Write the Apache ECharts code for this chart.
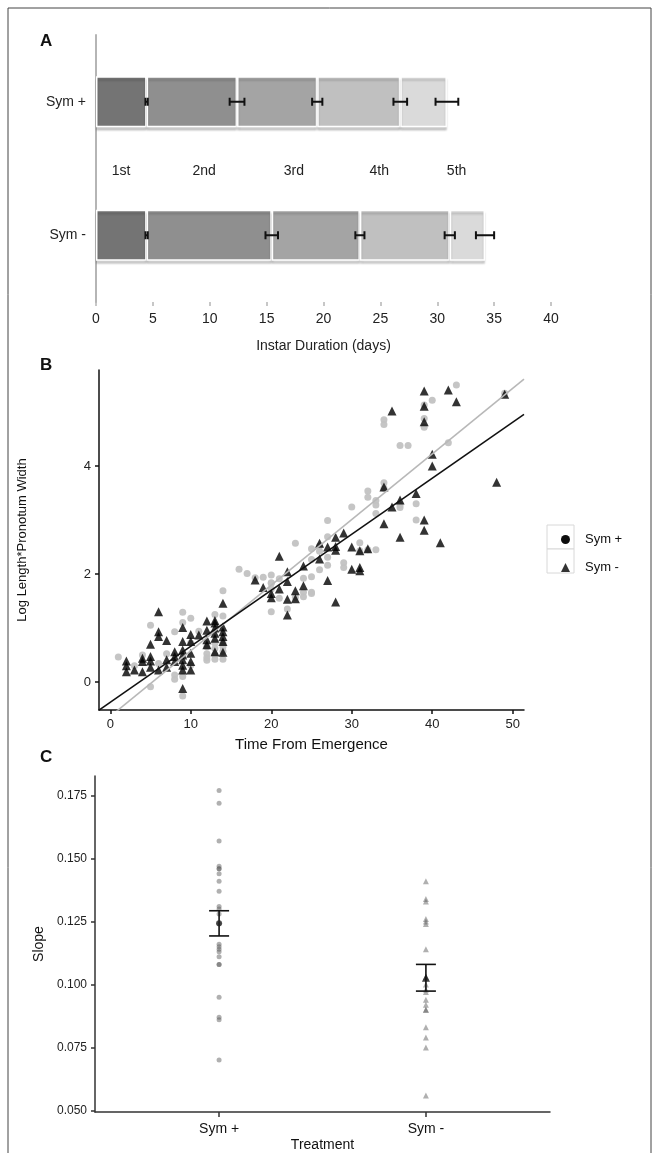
<!DOCTYPE html>
<html><head><meta charset="utf-8">
<script src="https://cdn.jsdelivr.net/npm/echarts@6/dist/echarts.min.js"></script>
<style>html,body{margin:0;padding:0;background:#fff}#c{width:659px;height:1153px}</style>
</head><body><div id="c"></div>
<script>
// ---------- Panel A data ----------
const groups = ['Sym +', 'Sym -'];
const instars = ['1st', '2nd', '3rd', '4th', '5th'];
const durSymPlus = [4.45, 7.95, 7.05, 7.3, 4.1];
const durSymMinus = [4.45, 11.0, 7.75, 7.9, 3.1];
const seSymPlus = [0.1, 0.65, 0.45, 0.6, 1.0];
const seSymMinus = [0.1, 0.55, 0.4, 0.45, 0.8];
const instarLabelX = [2.2, 9.5, 17.4, 24.9, 31.7];
const durationTicks = [0, 5, 10, 15, 20, 25, 30, 35, 40];

// ---------- Panel B data ----------
const growthSymPlus = [
[1,0.46],[3,0.3],[4,0.5],[5,1.05],[5,-0.09],[6,0.34],[7,0.52],[8,0.93],[8,0.05],[8,0.13],[9,1.29],[9,0.1],[9,-0.26],[9,1.1],
[10,1.18],[10,0.31],[10,0.72],[11,0.94],[12,0.40],[12,0.52],[12,0.65],[12,0.45],[13,1.25],[13,0.72],[13,0.50],[13,0.62],[13,0.42],
[14,1.69],[14,1.22],[14,0.72],[14,0.57],[14,0.42],[14,0.65],
[16,2.09],[17,2.01],[18,1.93],[19,1.94],[20,1.98],[20,1.84],[20,1.72],[20,1.30],[20,1.83],[21,1.91],[21,1.55],[22,1.35],
[23,2.57],[23,1.57],[24,1.66],[24,1.92],[24,1.58],[25,2.27],[25,1.95],[25,1.66],[25,2.47],[25,1.64],[26,2.42],[26,2.08],[26,2.52],
[27,2.99],[27,2.69],[27,2.31],[27,2.16],[29,2.21],[29,2.12],[30,3.24],[31,2.58],[31,2.43],[32,2.45],[32,3.54],[32,3.42],
[33,3.12],[33,3.28],[33,3.36],[33,2.45],[34,3.69],[34,3.59],[34,4.86],[34,4.77],[36,4.38],[37,4.38],[36,3.28],[36,3.23],
[38,3.30],[38,3.0],[39,4.88],[39,4.72],[39,5.13],[40,5.22],[42,4.43],[43,5.5],[49,5.35]
];
const growthSymMinus = [
[2,0.39],[2,0.30],[2,0.19],[3,0.22],[4,0.44],[4,0.38],[4,0.19],[5,0.70],[5,0.47],[5,0.39],[5,0.27],[6,1.30],[6,0.93],[6,0.84],[6,0.22],
[7,0.77],[7,0.41],[7,0.27],[8,0.56],[8,0.47],[8,0.38],[9,1.01],[9,0.75],[9,0.59],[9,0.50],[9,0.41],[9,0.31],[9,0.22],[9,-0.12],
[10,0.88],[10,0.75],[10,0.53],[10,0.38],[10,0.22],[11,0.87],[12,1.13],[12,0.96],[12,0.78],[12,0.69],
[13,1.14],[13,1.09],[13,1.00],[13,0.90],[13,0.81],[13,0.56],[14,1.46],[14,1.02],[14,0.93],[14,0.84],[14,0.75],[14,0.55],
[18,1.89],[19,1.75],[20,1.64],[20,1.56],[21,2.33],[21,1.72],[22,2.04],[22,1.86],[22,1.53],[22,1.24],[23,1.69],[23,1.54],
[24,2.15],[24,1.78],[26,2.57],[26,2.28],[27,2.50],[27,1.88],[28,2.68],[28,2.51],[28,2.44],[28,1.48],[29,2.76],[30,2.50],[30,2.09],
[31,2.43],[31,2.12],[31,2.06],[32,2.47],[34,2.93],[34,3.61],[35,3.24],[35,5.02],[36,3.37],[36,2.68],[38,3.49],[39,3.0],[39,2.81],
[39,5.39],[39,5.11],[39,4.82],[40,4.22],[40,4.0],[41,2.58],[42,5.41],[43,5.19],[48,3.70],[49,5.33]
];
const fitSlope = [0.1216, 0.1038];
const fitIntercept = [-0.638, -0.376];
const timeTicks = [0, 10, 20, 30, 40, 50];
const sizeTicks = [0, 2, 4];

// ---------- Panel C data ----------
const slopeSymPlus = [0.177,0.172,0.157,0.147,0.146,0.146,0.144,0.141,0.137,0.131,0.130,0.128,0.124,0.116,0.115,0.114,0.113,0.111,0.108,0.108,0.095,0.087,0.086,0.070];
const slopeSymMinus = [0.141,0.134,0.133,0.126,0.125,0.124,0.114,0.103,0.100,0.098,0.097,0.094,0.092,0.090,0.090,0.083,0.079,0.075,0.056];
const slopeMean = [0.1243, 0.1027];
const slopeLo = [0.1193, 0.0974];
const slopeHi = [0.1293, 0.1080];
const slopeTicks = [0.050, 0.075, 0.100, 0.125, 0.150, 0.175];

// ---------- build ----------
const FONT = 'Liberation Sans, Arial, sans-serif';
const instarColors = ['#747474', '#8f8f8f', '#a4a4a4', '#c0c0c0', '#dadada'];

function cumul(arr){ let s=0; return arr.map(v => (s += v)); }
const cumPlus = cumul(durSymPlus), cumMinus = cumul(durSymMinus);
const errAData = [];
instars.forEach((_, i) => {
  errAData.push([cumPlus[i], 0, seSymPlus[i]]);
  errAData.push([cumMinus[i], 1, seSymMinus[i]]);
});

const barSeries = instars.map((name, i) => ({
  name, type: 'bar', stack: 'dur', xAxisIndex: 0, yAxisIndex: 0,
  barWidth: 51,
  data: [durSymPlus[i], durSymMinus[i]],
  itemStyle: { color: instarColors[i], borderColor: '#fff', borderWidth: 1.5,
    shadowColor: 'rgba(0,0,0,0.18)', shadowOffsetY: 3, shadowBlur: 2 },
  emphasis: { disabled: true }, silent: true
}));

const B_X = [-1.4, 51.4];
const fitLines = fitSlope.map((s, i) => B_X.map(x => [x, fitIntercept[i] + s * x]));

const cPlus = slopeSymPlus.map(v => [1, v]);
const cMinus = slopeSymMinus.map(v => [2, v]);

function errARender(params, api){
  const x = api.value(0), yi = api.value(1), se = api.value(2);
  const p1 = api.coord([x - se, yi]), p2 = api.coord([x + se, yi]);
  const h = 4, st = { stroke: '#111', lineWidth: 2 };
  return { type: 'group', children: [
    { type: 'line', shape: { x1: p1[0], y1: p1[1], x2: p2[0], y2: p2[1] }, style: st },
    { type: 'line', shape: { x1: p1[0], y1: p1[1]-h, x2: p1[0], y2: p1[1]+h }, style: st },
    { type: 'line', shape: { x1: p2[0], y1: p2[1]-h, x2: p2[0], y2: p2[1]+h }, style: st }
  ]};
}
function errCRender(params, api){
  const x = api.value(0), lo = api.value(1), hi = api.value(2);
  const p1 = api.coord([x, lo]), p2 = api.coord([x, hi]);
  const w = 10, st = { stroke: '#111', lineWidth: 1.6 };
  return { type: 'group', children: [
    { type: 'line', shape: { x1: p1[0], y1: p1[1], x2: p2[0], y2: p2[1] }, style: st },
    { type: 'line', shape: { x1: p1[0]-w, y1: p1[1], x2: p1[0]+w, y2: p1[1] }, style: st },
    { type: 'line', shape: { x1: p2[0]-w, y1: p2[1], x2: p2[0]+w, y2: p2[1] }, style: st }
  ]};
}

const chart = echarts.init(document.getElementById('c'), null, { renderer: 'canvas' });
const baseGraphic = [
  { id: 'frame', type: 'rect', shape: { x: 8, y: 8, width: 643, height: 1170 }, style: { fill: 'none', stroke: '#444', lineWidth: 1 }, silent: true },
  { id: 'lA', type: 'text', x: 40, y: 33, style: { text: 'A', font: 'bold 17px ' + FONT, fill: '#111' } },
  { id: 'lB', type: 'text', x: 40, y: 357, style: { text: 'B', font: 'bold 17px ' + FONT, fill: '#111' } },
  { id: 'lC', type: 'text', x: 40, y: 749, style: { text: 'C', font: 'bold 17px ' + FONT, fill: '#111' } },
  { id: 'k1', type: 'rect', shape: { x: 547, y: 525, width: 27, height: 24 }, style: { fill: '#fff', stroke: '#d8d8d8', lineWidth: 1 }, silent: true, z: 0 },
  { id: 'k2', type: 'rect', shape: { x: 547, y: 549, width: 27, height: 24 }, style: { fill: '#fff', stroke: '#d8d8d8', lineWidth: 1 }, silent: true, z: 0 }
];

chart.setOption({
  animation: false,
  backgroundColor: '#fff',
  textStyle: { fontFamily: FONT },
  grid: [
    { left: 96, top: 35, width: 455, height: 267 },
    { left: 99, top: 370, width: 425, height: 340 },
    { left: 95, top: 776, width: 455, height: 341 }
  ],
  legend: {
    orient: 'vertical', left: 556, top: 528, itemWidth: 9, itemHeight: 9, itemGap: 15,
    selectedMode: false,
    textStyle: { fontSize: 13, color: '#111', padding: [0, 0, 0, 10] },
    data: [
      { name: 'Sym +', icon: 'circle', itemStyle: { color: '#000' } },
      { name: 'Sym -', icon: 'triangle', itemStyle: { color: '#000' } }
    ],
    z: 5
  },
  xAxis: [
    { gridIndex: 0, type: 'value', min: 0, max: 40, interval: 5,
      name: 'Instar Duration (days)', nameLocation: 'middle', nameGap: 37,
      nameTextStyle: { fontSize: 14, color: '#222' },
      axisLine: { lineStyle: { color: '#b5b5b5', width: 2 } },
      axisTick: { show: true, length: 4, lineStyle: { color: '#b5b5b5', width: 1.5 } },
      axisLabel: { fontSize: 14, color: '#222', margin: 10 },
      splitLine: { show: false } },
    { gridIndex: 1, type: 'value', min: B_X[0], max: B_X[1],
      name: 'Time From Emergence', nameLocation: 'middle', nameGap: 27,
      nameTextStyle: { fontSize: 15, color: '#111' },
      axisLine: { onZero: false, lineStyle: { color: '#111', width: 1.5 } },
      axisTick: { customValues: timeTicks, length: 4, lineStyle: { color: '#111', width: 1.5 } },
      axisLabel: { customValues: timeTicks, fontSize: 13, color: '#222', margin: 8 },
      splitLine: { show: false } },
    { gridIndex: 2, type: 'value', min: 0.4, max: 2.6,
      name: 'Treatment', nameLocation: 'middle', nameGap: 26,
      nameTextStyle: { fontSize: 14, color: '#111' },
      axisLine: { onZero: false, lineStyle: { color: '#333', width: 1.5 } },
      axisTick: { customValues: [1, 2], length: 5, lineStyle: { color: '#333', width: 1.5 } },
      axisLabel: { customValues: [1, 2], fontSize: 14, color: '#111', margin: 10,
        formatter: v => groups[Math.round(v) - 1] },
      splitLine: { show: false } }
  ],
  yAxis: [
    { gridIndex: 0, type: 'category', data: groups, inverse: true,
      axisLine: { lineStyle: { color: '#b5b5b5', width: 2 } },
      axisTick: { show: false },
      axisLabel: { fontSize: 14, color: '#222', margin: 10 },
      splitLine: { show: false } },
    { gridIndex: 1, type: 'value', min: -0.52, max: 5.78,
      name: 'Log Length*Pronotum Width', nameLocation: 'middle', nameGap: 70,
      nameTextStyle: { fontSize: 13, color: '#111' },
      axisLine: { onZero: false, lineStyle: { color: '#111', width: 1.5 } },
      axisTick: { customValues: sizeTicks, length: 4, lineStyle: { color: '#111', width: 1.5 } },
      axisLabel: { customValues: sizeTicks, fontSize: 13, color: '#222', margin: 8 },
      splitLine: { show: false } },
    { gridIndex: 2, type: 'value', min: 0.0494, max: 0.1828,
      name: 'Slope', nameLocation: 'middle', nameGap: 47,
      nameTextStyle: { fontSize: 14, color: '#111' },
      axisLine: { onZero: false, lineStyle: { color: '#333', width: 1.5 } },
      axisTick: { customValues: slopeTicks, length: 4, lineStyle: { color: '#333', width: 1.5 } },
      axisLabel: { customValues: slopeTicks, fontSize: 12, color: '#222', margin: 8,
        formatter: v => v.toFixed(3) },
      splitLine: { show: false } }
  ],
  series: [
    ...barSeries,
    { name: 'errA', type: 'custom', xAxisIndex: 0, yAxisIndex: 0, renderItem: errARender,
      data: errAData, z: 10, silent: true },
    { name: 'Sym +', type: 'scatter', xAxisIndex: 1, yAxisIndex: 1, data: growthSymPlus,
      symbol: 'circle', symbolSize: 7, itemStyle: { color: '#c2c2c2', opacity: 0.95 }, z: 2, silent: true },
    { name: 'Sym -', type: 'scatter', xAxisIndex: 1, yAxisIndex: 1, data: growthSymMinus,
      symbol: 'triangle', symbolSize: 9, itemStyle: { color: '#000' }, z: 3, silent: true },
    { name: 'fitPlus', type: 'line', xAxisIndex: 1, yAxisIndex: 1, data: fitLines[0],
      showSymbol: false, symbol: 'none', lineStyle: { color: '#b8b8b8', width: 1.6 }, z: 4, silent: true, clip: true },
    { name: 'fitMinus', type: 'line', xAxisIndex: 1, yAxisIndex: 1, data: fitLines[1],
      showSymbol: false, symbol: 'none', lineStyle: { color: '#111', width: 1.6 }, z: 4, silent: true, clip: true },
    { name: 'cPlus', type: 'scatter', xAxisIndex: 2, yAxisIndex: 2, data: cPlus,
      symbol: 'circle', symbolSize: 5, itemStyle: { color: 'rgba(90,90,90,0.6)' }, silent: true },
    { name: 'cMinus', type: 'scatter', xAxisIndex: 2, yAxisIndex: 2, data: cMinus,
      symbol: 'triangle', symbolSize: 6, itemStyle: { color: 'rgba(90,90,90,0.6)' }, silent: true },
    { name: 'cErr', type: 'custom', xAxisIndex: 2, yAxisIndex: 2, renderItem: errCRender,
      data: [[1, slopeLo[0], slopeHi[0]], [2, slopeLo[1], slopeHi[1]]], z: 5, silent: true },
    { name: 'cMeanPlus', type: 'scatter', xAxisIndex: 2, yAxisIndex: 2, data: [[1, slopeMean[0]]],
      symbol: 'circle', symbolSize: 6, itemStyle: { color: '#222' }, z: 6, silent: true },
    { name: 'cMeanMinus', type: 'scatter', xAxisIndex: 2, yAxisIndex: 2, data: [[2, slopeMean[1]]],
      symbol: 'triangle', symbolSize: 8, itemStyle: { color: '#111' }, z: 6, silent: true }
  ],
  graphic: baseGraphic
});

// instar labels placed between the two bars
const yTop = chart.convertToPixel({ yAxisIndex: 0 }, groups[0]);
const yBot = chart.convertToPixel({ yAxisIndex: 0 }, groups[1]);
const midY = (yTop + yBot) / 2 + 3;
const labelGraphics = instars.map((t, i) => ({
  id: 'inst' + i, type: 'text',
  x: chart.convertToPixel({ xAxisIndex: 0 }, instarLabelX[i]), y: midY,
  style: { text: t, font: '14px ' + FONT, fill: '#222', textAlign: 'center', textVerticalAlign: 'middle' }
}));
chart.setOption({ graphic: baseGraphic.concat(labelGraphics) });
</script>
</body></html>
